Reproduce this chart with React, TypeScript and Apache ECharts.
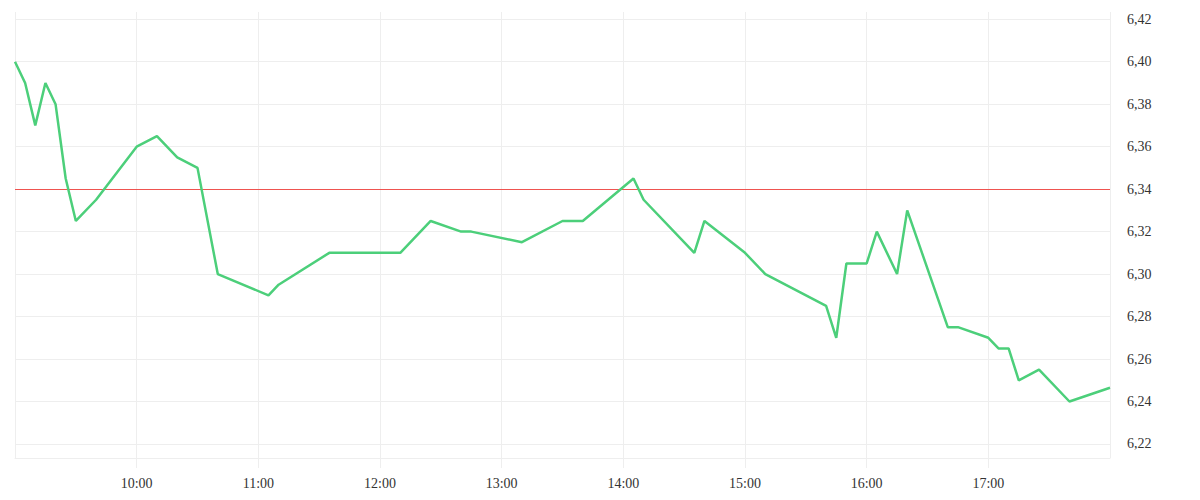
import React, { useEffect, useRef } from "react";
import * as echarts from "echarts";

const times = ["09:00","09:05","09:10","09:15","09:20","09:25","09:30","09:40","10:00","10:10","10:20","10:30","10:40","11:05","11:10","11:35","12:10","12:25","12:40","12:45","13:10","13:30","13:40","14:05","14:10","14:35","14:40","15:00","15:10","15:40","15:45","15:50","16:00","16:05","16:15","16:20","16:40","16:45","17:00","17:05","17:10","17:15","17:25","17:40","18:00"];
const prices = [6.40,6.39,6.37,6.39,6.38,6.345,6.325,6.335,6.36,6.365,6.355,6.35,6.30,6.29,6.295,6.31,6.31,6.325,6.32,6.32,6.315,6.325,6.325,6.345,6.335,6.31,6.325,6.31,6.30,6.285,6.27,6.305,6.305,6.32,6.30,6.33,6.275,6.275,6.27,6.265,6.265,6.25,6.255,6.24,6.2465];
const refPrice = 6.34;
const sessionStart = "09:00";
const sessionEnd = "18:00";
const priceMin = 6.2134;
const priceMax = 6.4234;

const toMin = (t: string) => {
  const [h, m] = t.split(":").map(Number);
  return h * 60 + m;
};
const fmtTime = (v: number) => {
  const h = Math.floor(v / 60);
  const m = Math.round(v % 60);
  return `${h}:${m < 10 ? "0" + m : m}`;
};

export default function App() {
  const ref = useRef<HTMLDivElement>(null);
  useEffect(() => {
    if (!ref.current) return;
    const chart = echarts.init(ref.current, null, { renderer: "svg" });
    const font = "Liberation Serif";
    chart.setOption({
      animation: false,
      backgroundColor: "#ffffff",
      grid: { left: 15, right: 90, top: 12, bottom: 42 },
      xAxis: {
        type: "value",
        min: toMin(sessionStart),
        max: toMin(sessionEnd),
        interval: 60,
        axisLine: { show: true, lineStyle: { color: "#eeeeee", width: 1 } },
        axisTick: { show: true, length: 10, lineStyle: { color: "#eeeeee" } },
        splitLine: { show: true, lineStyle: { color: "#eeeeee", width: 1 } },
        axisLabel: {
          showMinLabel: false,
          showMaxLabel: false,
          margin: 18,
          color: "#333333",
          fontFamily: font,
          fontSize: 14,
          formatter: (v: number) => fmtTime(v),
        },
      },
      yAxis: {
        type: "value",
        position: "right",
        min: priceMin,
        max: priceMax,
        splitNumber: 10,
        scale: true,
        axisLine: { show: false },
        axisTick: { show: false },
        splitLine: {
          show: true,
          showMinLine: true,
          showMaxLine: false,
          lineStyle: { color: "#eeeeee", width: 1 },
        },
        axisLabel: {
          showMinLabel: false,
          showMaxLabel: false,
          margin: 17,
          color: "#333333",
          fontFamily: font,
          fontSize: 14,
          formatter: (v: number) => v.toFixed(2).replace(".", ","),
        },
      },
      series: [
        {
          type: "line",
          data: times.map((t, i) => [toMin(t), prices[i]]),
          showSymbol: false,
          symbol: "none",
          lineStyle: { color: "#4ccf7a", width: 2.5 },
          itemStyle: { color: "#4ccf7a" },
          z: 3,
          markLine: {
            silent: true,
            symbol: "none",
            label: { show: false },
            lineStyle: { color: "#ef5350", width: 1, type: "solid" },
            data: [{ yAxis: refPrice }],
            z: 2,
          },
        },
      ],
    });
    return () => chart.dispose();
  }, []);
  return (
    <div
      ref={ref}
      style={{ position: "fixed", left: 0, top: 0, width: 1200, height: 500 }}
    />
  );
}
